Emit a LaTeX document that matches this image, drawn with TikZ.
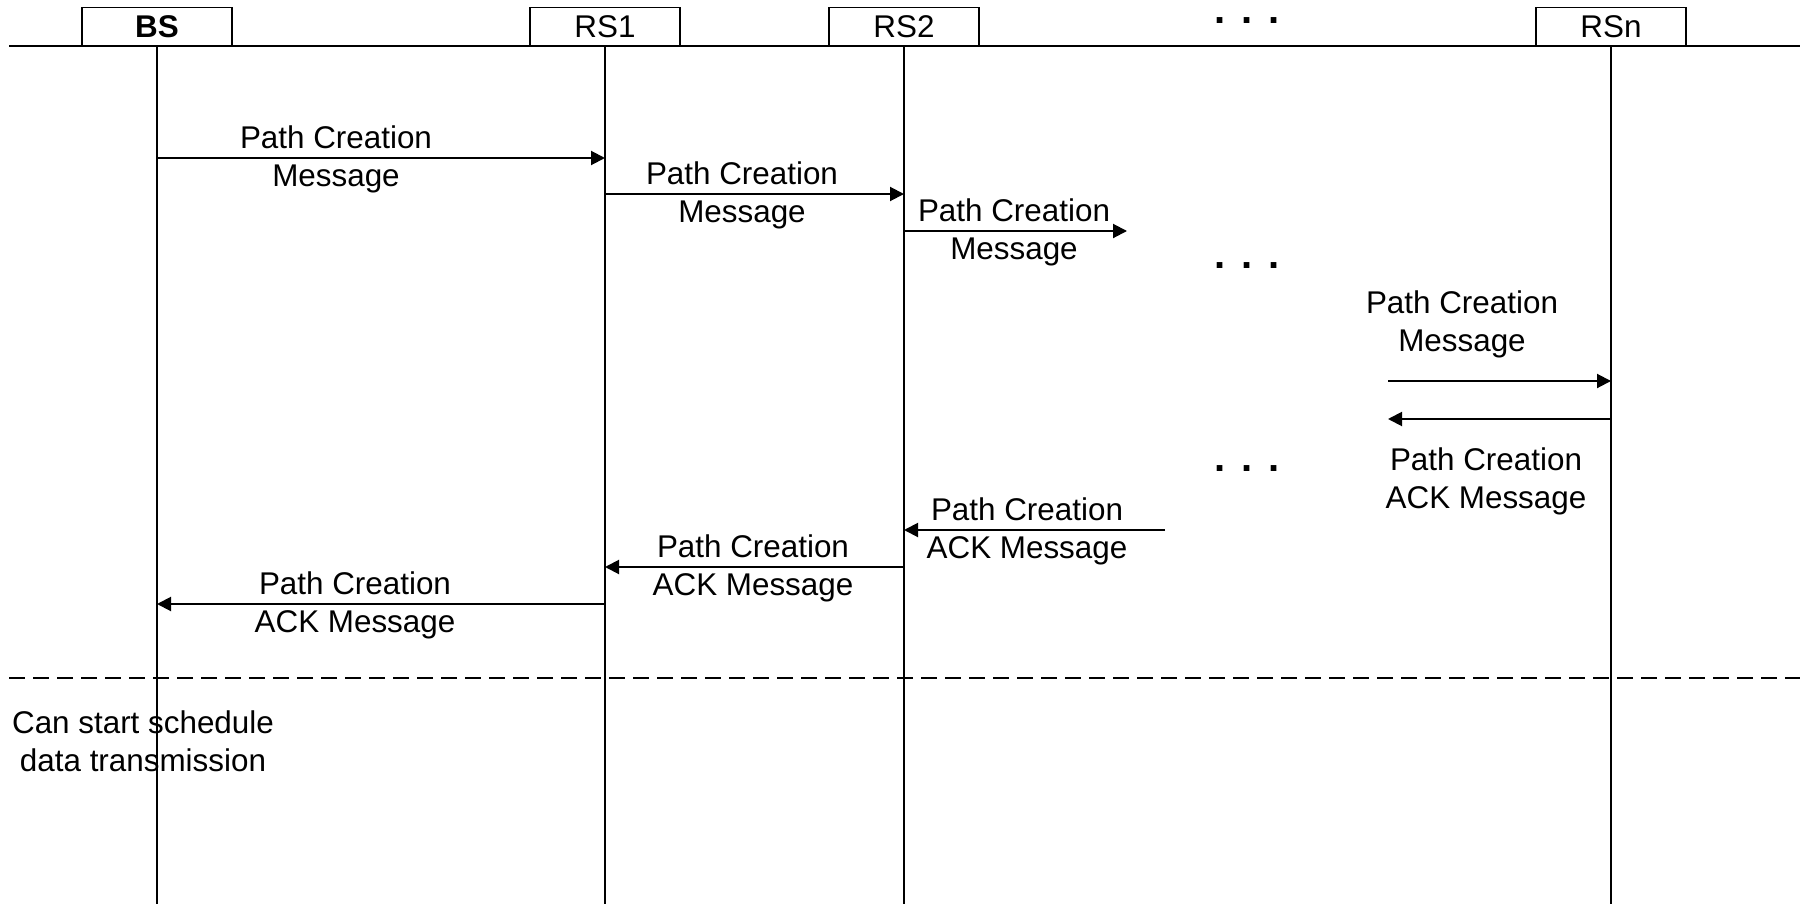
\documentclass[tikz,border=0pt]{standalone}
\usepackage{fontspec}
\setmainfont{Liberation Sans}
\usetikzlibrary{
	positioning,
	arrows.meta
}
\tikzset{
	x=0.5pt,
	y=-0.5pt,
	every node/.append style={
		font=\fontsize{15.7}{19}\selectfont
	},
	head/.style={
		draw, line width=0.7pt, anchor=south,
		minimum width=75pt, minimum height=19pt, inner sep=0pt
	},
	life/.style={
		line width=0.7pt
	},
	msg/.style={
		line width=1pt, -{Triangle[length=7pt,width=7pt]}
	},
	lbl/.style={
		align=center, inner sep=0pt
	},
	dots/.style={
		inner sep=0pt, font=\fontsize{20}{20}\selectfont\bfseries
	}
}

\begin{document}
\begin{tikzpicture}
	\useasboundingbox (0,0) rectangle (1803,904);

	\coordinate (left)  at (9,46);
	\coordinate (right) at (1800,46);
	\draw[life] (left) -- (right);

	\node[head] (bs)  at (157,46)  {\bfseries BS};
	\node[head] (rs1) at (605,46)  {RS1};
	\node[head] (rs2) at (904,46)  {RS2};
	\node[head] (rsn) at (1611,46) {RSn};

	\foreach \n in {bs,rs1,rs2,rsn} {
		\coordinate (\n-end) at (\n.south |- 0,904);
		\draw[life] (\n.south) -- (\n-end);
	}

	\foreach \y [count=\i] in {21,266,469}
		\node[dots] (dots\i) at (1247,\y) {.\hspace{8pt}.\hspace{8pt}.};

	% open ends of the messages
	\coordinate (gap1) at (1127,231);
	\coordinate (gap2) at (1388,381);
	\coordinate (gap3) at (1388,419);
	\coordinate (gap4) at (1165,530);

	% path creation
	\foreach \a/\b/\y/\lx/\ly [count=\i] in {
		bs/rs1/158/336/159,
		rs1/rs2/194/742/195,
		rs2/gap1/231/1014/232,
		gap2/rsn/381/1462/324
	} {
		\coordinate (f\i-a) at (\a |- 0,\y);
		\coordinate (f\i-b) at (\b |- 0,\y);
		\draw[msg] (f\i-a) -- (f\i-b);
		\node[lbl] (fl\i) at (\lx,\ly) {Path Creation\\Message};
	}

	% path creation ack
	\foreach \a/\b/\y/\lx/\ly [count=\i] in {
		rsn/gap3/419/1486/481,
		gap4/rs2/530/1027/531,
		rs2/rs1/567/753/568,
		rs1/bs/604/355/605
	} {
		\coordinate (b\i-a) at (\a |- 0,\y);
		\coordinate (b\i-b) at (\b |- 0,\y);
		\draw[msg] (b\i-a) -- (b\i-b);
		\node[lbl] (bl\i) at (\lx,\ly) {Path Creation\\ACK Message};
	}

	\coordinate (dleft)  at (9,678);
	\coordinate (dright) at (1800,678);
	\draw[life, dash pattern=on 8pt off 4pt] (dleft) -- (dright);

	\node[lbl] (note) at (143,741) {Can start schedule\\data transmission};
\end{tikzpicture}
\end{document}
